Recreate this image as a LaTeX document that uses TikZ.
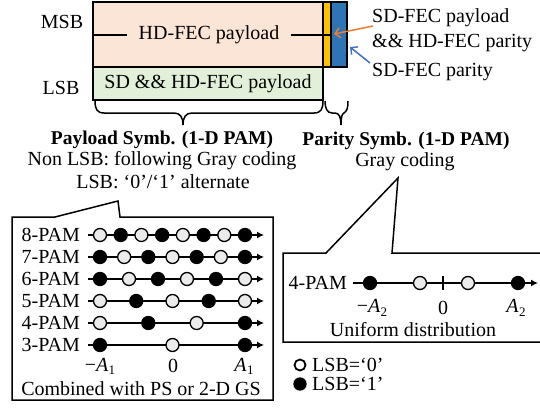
\documentclass[tikz,border=0pt]{standalone}
\usepackage{fontspec}
\setmainfont{Liberation Serif}
\usetikzlibrary{arrows.meta}
\definecolor{pinkfill}{HTML}{FBE5D6}
\definecolor{greenfill}{HTML}{E2F0D9}
\definecolor{yel}{HTML}{FFC000}
\definecolor{blu}{HTML}{2E75B6}
\definecolor{orng}{HTML}{ED7D31}
\definecolor{ablue}{HTML}{4472C4}
\definecolor{opengray}{HTML}{EBEBEB}
\newcommand\Asym[1]{\textit{A}\kern0.3pt\raisebox{-0.35ex}{\fontsize{13}{13}\selectfont #1}}
\begin{document}
\begin{tikzpicture}[x=1pt,y=-1pt,
  txt/.style={inner sep=0pt, font=\fontsize{20}{22}\selectfont},
  bold/.style={inner sep=0pt, font=\fontsize{19.5}{22}\selectfont\bfseries},
  pt0/.style={circle, draw, line width=1.3pt, fill=opengray, minimum size=13pt, inner sep=0pt},
  pt1/.style={circle, draw, line width=1.3pt, fill=black, minimum size=13pt, inner sep=0pt},
  axis/.style={line width=1.3pt, -{Latex[length=7pt,width=7pt]}},
  box/.style={draw, line width=1.5pt},
  callout/.style={draw, line width=1.5pt, fill=white},
  brace/.style={draw, line width=1.5pt},
]
\useasboundingbox (0,0) rectangle (540,412);
% ---- top frame ----
\path[box, fill=pinkfill] (93,2) rectangle (323,67);
\path[box, fill=greenfill] (93,67) rectangle (323,100);
\path[box, fill=yel] (323,2) rectangle (331,67);
\path[box, fill=blu] (331,2) rectangle (347,67);
\node[txt] (hd) at (209,35) {HD-FEC payload};
\node[txt] (sdhd) at (208,84) {SD \&\& HD-FEC payload};
\coordinate (ml) at (93,35);
\coordinate (mr) at (331,35);
\draw[line width=1.5pt] (ml) -- ([xshift=-12pt]hd.west);
\draw[line width=1.5pt] ([xshift=12pt]hd.east) -- (mr);
\node[txt] (msb) at (62,22) {MSB};
\node[txt] (lsb) at (61,88) {LSB};
\node[txt, anchor=west] (sdp) at (372,18) {SD-FEC payload};
\node[txt, anchor=west] (hdpar) at (372,43) {\&\& HD-FEC parity};
\node[txt, anchor=west] (sdpar) at (372,72) {SD-FEC parity};
\coordinate (oa) at (373,26);
\coordinate (ob) at (334,34);
\coordinate (ba) at (370,63);
\coordinate (bb) at (350,47);
\draw[orng, line width=1.5pt, -{Straight Barb[length=5pt,width=10pt]}] (oa) -- (ob);
\draw[ablue, line width=1.5pt, -{Straight Barb[length=5pt,width=10pt]}] (ba) -- (bb);
% ---- braces ----
\draw[brace] (95,101) .. controls (95,109) and (97,113) .. (104,113)
  -- (174,113) .. controls (180,113) and (183,117) .. (183,125)
  .. controls (183,117) and (186,113) .. (192,113)
  -- (314,113) .. controls (321,113) and (323,109) .. (323,101);
\draw[brace] (325,101) .. controls (325,108) and (327,113) .. (332,113)
  -- (335,113) .. controls (339,113) and (341,117) .. (341,125)
  .. controls (341,117) and (342,114) .. (344,113)
  .. controls (347,111) and (348,108) .. (348,101);
% ---- headings ----
\node[bold] (payh) at (162,140) {Payload Symb. (1-D PAM)};
\node[txt] (pay2) at (162,161) {Non LSB: following Gray coding};
\node[txt] (pay3) at (163,182) {LSB: ‘0’/‘1’ alternate};
\node[bold] (parh) at (406,141) {Parity Symb. (1-D PAM)};
\node[txt] (par2) at (405,162) {Gray coding};
% ---- left callout ----
\draw[callout] (12,217) -- (55,217) -- (118,201) -- (120,217) -- (273,217) -- (273,400) -- (12,400) -- cycle;
\foreach \n/\y/\pat in {8/235/{0,1,0,1,0,1,0,1},7/257/{1,0,1,0,1,0,1},6/279/{1,0,1,0,1,0},5/301/{0,1,0,1,0},4/323/{0,1,0,1},3/345/{1,0,1}}{
  \node[txt, anchor=east] (lab\n) at (80,\y) {\n-PAM};
  \coordinate (s\n) at (88,\y);
  \coordinate (e\n) at (264,\y);
  \draw[axis] (s\n) -- (e\n);
  \foreach \c [count=\k from 0] in \pat {
    \node[pt\c] (p\n-\k) at ({100+\k*145/(\n-1)},\y) {};
  }
}
\node[txt] (ma1) at (100,366) {−\Asym{1}};
\node[txt] (z1) at (173,366) {0};
\node[txt] (a1) at (244,366) {\Asym{1}};
\node[txt] (comb) at (141,389) {Combined with PS or 2-D GS};
% ---- right callout ----
\draw[callout] (283,253) -- (326,253) -- (398,178) -- (392,253) -- (550,253) -- (550,342) -- (283,342) -- cycle;
\node[txt, anchor=east] (lab2) at (347,283) {4-PAM};
\coordinate (s2) at (353,283);
\coordinate (e2) at (538,283);
\draw[axis] (s2) -- (e2);
\coordinate (t1) at (443,276);
\coordinate (t2) at (443,290);
\draw[line width=1.5pt] (t1) -- (t2);
\node[pt1] (q0) at (370,283) {};
\node[pt0] (q1) at (420,283) {};
\node[pt0] (q2) at (468,283) {};
\node[pt1] (q3) at (518,283) {};
\node[txt] (ma2) at (372,308) {−\Asym{2}};
\node[txt] (z2) at (443,308) {0};
\node[txt] (a2) at (516,308) {\Asym{2}};
\node[txt] (unif) at (413,330) {Uniform distribution};
% ---- legend ----
\node[pt0, fill=white, line width=1.8pt, minimum size=11pt] (lg0) at (300,365) {};
\node[pt1, minimum size=12pt] (lg1) at (300,384) {};
\node[txt, anchor=west] (lt0) at (312,365) {LSB=‘0’};
\node[txt, anchor=west] (lt1) at (312,384) {LSB=‘1’};
\end{tikzpicture}
\end{document}
